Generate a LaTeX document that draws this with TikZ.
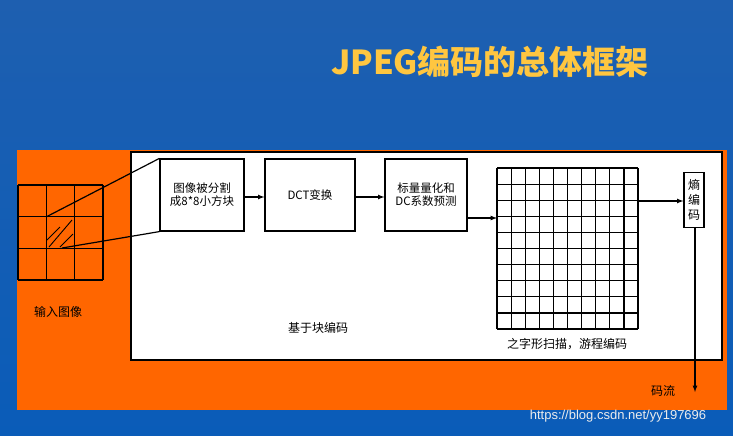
\documentclass[tikz,border=0pt]{standalone}
\usepackage{fontspec}
\setmainfont{Noto Sans CJK SC}
\newfontfamily\wm{Liberation Sans}
\definecolor{bgblue}{HTML}{0A5CB8}
\definecolor{bgtop}{HTML}{1E5FB0}
\definecolor{org}{HTML}{FF6600}
\definecolor{gold}{HTML}{FFC640}
\tikzset{
  box/.style={draw,line width=1.2pt,fill=white,align=center,font=\fontsize{11.5}{13}\selectfont,inner sep=0pt},
  arr/.style={line width=1.2pt,-latex},
  lbl/.style={font=\fontsize{12}{14}\selectfont},
  gl/.style={line width=1.2pt},
}
\begin{document}
\begin{tikzpicture}[x=1pt,y=-1pt]
\useasboundingbox (0,0) rectangle (733,436);
\shade[top color=bgtop,bottom color=bgblue] (0,0) rectangle (733,436);
\node[font=\bfseries\fontsize{33}{36}\selectfont,text=gold] (title) at (490,62) {JPEG编码的总体框架};
\fill[org] (17,150) rectangle (727,410);
\draw[line width=1.3pt,fill=white] (131,152) rectangle (722,360);
% small grid
\foreach \i in {0,1,2,3} {
  \draw[gl] (18+\i*28.33,185) -- (18+\i*28.33,280);
  \draw[gl] (18,185+\i*31.67) -- (103,185+\i*31.67);
}
\draw[line width=0.9pt] (47,240) -- (60,227) (49,247) -- (72,220) (60,247) -- (73,234);
\coordinate (c1) at (46,217);
\coordinate (c2) at (62,248);
\node[box,minimum width=84,minimum height=72] (b1) at (202,195) {图像被分割\\成8*8小方块};
\node[box,minimum width=90,minimum height=72] (b2) at (310,195) {DCT变换};
\node[box,minimum width=82,minimum height=72] (b3) at (426,195) {标量量化和\\DC系数预测};
\draw[gl] (c1) -- (b1.north west);
\draw[gl] (c2) -- (b1.south west);
\draw[arr] (b1.east|-0,197) -- (b2.west|-0,197);
\draw[arr] (b2.east|-0,197) -- (b3.west|-0,197);
% big grid
\foreach \i in {0,...,10} {
  \draw[gl] (497+\i*14.1,168) -- (497+\i*14.1,329);
  \draw[gl] (497,168+\i*16.1) -- (638,168+\i*16.1);
}
\coordinate (gl) at (497,218);
\coordinate (gr) at (638,201);
\draw[arr] (b3.east|-0,218) -- (gl);
\node[box,minimum width=20,minimum height=55,font=\fontsize{12}{15}\selectfont] (b4) at (694,200) {熵\\编\\码};
\draw[arr] (gr) -- (gr-|b4.west);
\coordinate (out) at (695,392);
\draw[arr] (b4.south-|out) -- (out);
\node[lbl] (l1) at (663,391) {码流};
\node[lbl] (l2) at (567,344) {之字形扫描，游程编码};
\node[lbl] (l3) at (318,328) {基于块编码};
\node[lbl] (l4) at (58,312) {输入图像};
\node[font=\wm\fontsize{13}{15}\selectfont,text=white!85!gray] (w) at (618,416) {https://blog.csdn.net/yy197696};
\end{tikzpicture}
\end{document}
